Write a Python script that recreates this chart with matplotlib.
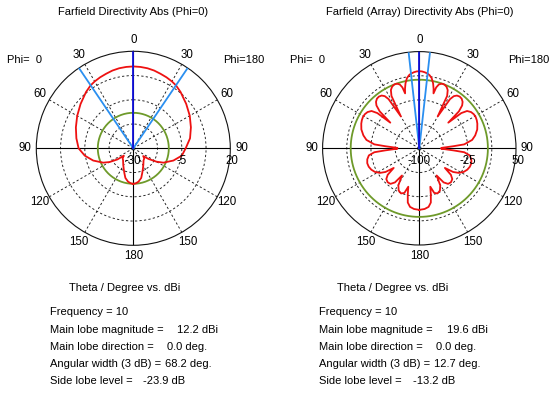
import numpy as np
import matplotlib
matplotlib.use("Agg")
import matplotlib.pyplot as plt

plt.rcParams['font.family'] = ['Liberation Sans', 'DejaVu Sans']

# ---------------- data ----------------
# single element, theta in degrees, directivity in dBi
theta_single = [0, 5, 10, 15, 20, 25, 30, 34.1, 40, 50, 60, 70, 80, 90, 98.6, 107, 115.5, 120,
                125, 128, 133, 140, 148, 155, 160, 165, 171, 176, 180]
single_phi0 = [12.2, 12.1, 11.9, 11.5, 10.9, 10.4, 9.8, 9.2, 7.9, 5.5, 3.4, 1.5, -0.2, -1.8,
               -4.7, -8.4, -12.8, -15.8, -20.0, -23.8, -22.5, -21.8, -20.2, -18.3, -16.5, -14.2,
               -12.6, -11.9, -11.7]
single_phi180 = [12.2, 12.1, 11.9, 11.5, 10.9, 10.4, 9.8, 9.2, 7.9, 5.6, 3.6, 1.6, -0.3, -3.0,
                 -4.7, -8.4, -12.8, -16.2, -20.5, -23.5, -22.3, -21.8, -20.2, -18.3, -16.5,
                 -14.2, -12.6, -11.9, -11.7]

# array, theta in degrees, directivity in dBi
theta_array = [0, 2, 4, 6.35, 8, 10, 12, 13.5, 14.5, 15.5, 17, 19, 20.5, 22, 24, 26, 28, 30,
               32, 33.5, 35.5, 38, 40.5, 43, 45, 47, 48.5, 50, 52, 55, 58, 61, 64, 67, 72, 77,
               81, 85, 86.5, 88, 89, 90, 91, 92, 93.5, 95, 98, 102, 106, 110, 114, 118, 122,
               125, 127.5, 130, 133, 137, 141, 144.5, 147.5, 150.5, 154, 158, 161.5, 164, 166,
               168, 171, 175, 180]
array_phi0 = [19.6, 19.3, 18.3, 16.6, 14.5, 10.5, 3.0, -5.0, -12.0, -2.0, 3.5, 6.0, 6.4, 6.0,
              4.2, 0.5, -8.0, -43.0, -10.0, -3.0, 0.5, 1.8, 1.2, -1.5, -6.0, -16.0, -40.0,
              -15.0, -6.0, -2.0, -0.3, 0.0, -0.8, -2.2, -5.5, -11.0, -17.0, -30.0, -47.0,
              -60.0, -66.0, -62.0, -66.0, -60.0, -47.0, -30.0, -21.0, -17.5, -16.0, -16.5,
              -18.5, -22.0, -28.0, -36.0, -50.0, -36.0, -30.0, -28.0, -29.0, -35.0, -50.0,
              -34.0, -27.0, -24.5, -27.0, -38.0, -26.0, -14.0, -8.0, -5.5, -4.5]
array_phi180 = list(array_phi0)

single_info = {"freq": "10", "mag": "12.2 dBi", "dir": "0.0 deg.", "width": 68.2, "sll": -23.9}
array_info = {"freq": "10", "mag": "19.6 dBi", "dir": "0.0 deg.", "width": 12.7, "sll": -13.2}
single_main = 12.2
array_main = 19.6

single_rlim = (-30, 20)
array_rlim = (-100, 50)
single_rlabels = ["-30", "-5", "20"]
array_rlabels = ["-100", "-25", "50"]

theta_ticks = [0, 30, 60, 90, 120, 150, 180]

titles = ["Farfield Directivity Abs (Phi=0)", "Farfield (Array) Directivity Abs (Phi=0)"]

W, H = 558, 394
fig = plt.figure(figsize=(W / 100, H / 100), dpi=100)

RED = '#ee1111'
GREEN = '#6e9a2a'
DBLUE = '#1010dd'
LBLUE = '#2a8ff0'
FS = 8.0


def polar_panel(cx, cy, R, rlim, theta, phi0, phi180, main, info, rlabels, title, phi_dx):
    ax = fig.add_axes([(cx - R) / W, 1 - (cy + R) / H, 2 * R / W, 2 * R / H], projection='polar')
    ax.set_theta_zero_location('N')
    ax.set_theta_direction(1)
    rmin, rmax = rlim
    ax.set_ylim(rmin, rmax)
    # grid
    step = (rmax - rmin) / 4
    ax.set_yticks([rmin + step, rmin + 2 * step, rmin + 3 * step])
    ax.set_yticklabels([])
    ax.set_xticks(np.deg2rad([30, 60, 120, 150, 210, 240, 300, 330]))
    ax.set_xticklabels([])
    ax.grid(True, color='#1a1a1a', linestyle=(0, (2.5, 2.5)), linewidth=0.65)
    ax.spines['polar'].set_linewidth(0.8)
    ax.spines['polar'].set_color('#111111')
    ax.tick_params(length=0)
    for a in [0, 90, 180, 270]:
        ax.plot([np.deg2rad(a)] * 2, [rmin, rmax], color='black', lw=0.8, zorder=2)
    # side lobe level circle
    tt = np.linspace(0, 2 * np.pi, 361)
    ax.plot(tt, np.full_like(tt, main + info["sll"]), color=GREEN, lw=1.3, zorder=3)
    # pattern
    th = np.asarray(theta, float)
    ang = np.concatenate([-th[::-1], th[1:]])
    rr = np.concatenate([np.asarray(phi180)[::-1], np.asarray(phi0)[1:]])
    ax.plot(np.deg2rad(ang), rr, color=RED, lw=1.3, zorder=4)
    # beam lines
    hw = info["width"] / 2
    for a in (-hw, hw):
        ax.plot([np.deg2rad(a)] * 2, [rmin, rmax], color=LBLUE, lw=1.3, zorder=5)
    ax.plot([0, 0], [rmin, rmax], color=DBLUE, lw=1.3, zorder=6)
    ax.set_rlim(rmin, rmax)
    # theta labels
    rl = rmax + 0.115 * (rmax - rmin)
    for t in theta_ticks:
        for s in ([1] if t in (0, 180) else [1, -1]):
            ax.text(np.deg2rad(s * t), rl, str(t), ha='center', va='center', fontsize=FS + 0.3,
                    clip_on=False)
    # radial labels
    for val, lab in zip([rmin, rmin + 2 * step, rmax], rlabels):
        ax.annotate(lab, xy=(np.deg2rad(-90), val), xytext=(2 if val == rmax else 0, -13),
                    textcoords='offset pixels', ha='center', va='center', fontsize=FS + 0.3,
                    annotation_clip=False, zorder=7)
    fig.text((cx - phi_dx[0]) / W, 1 - 60 / H, "Phi=  0", ha='left', va='center', fontsize=FS)
    fig.text((cx + phi_dx[1]) / W, 1 - 60 / H, "Phi=180", ha='center', va='center', fontsize=FS)
    fig.text(cx / W, 1 - 12 / H, title, ha='center', va='center', fontsize=FS)
    return ax


polar_panel(133.3, 148.3, 97, single_rlim, theta_single, single_phi0, single_phi180,
            single_main, single_info, single_rlabels, titles[0], (126, 110))
polar_panel(419.3, 148.3, 96.7, array_rlim, theta_array, array_phi0, array_phi180,
            array_main, array_info, array_rlabels, titles[1], (129, 109))


def info_block(x0, xc, info, vx):
    fig.text(xc / W, 1 - 288 / H, "Theta / Degree vs. dBi", ha='center', va='center', fontsize=FS)
    ys = [312.3, 330.0, 347.3, 364.0, 380.7]
    labels = ["Frequency = " + info["freq"], "Main lobe magnitude =", "Main lobe direction =",
              "Angular width (3 dB) =", "Side lobe level ="]
    values = ["", info["mag"], info["dir"], "%.1f deg." % info["width"], "%.1f dB" % info["sll"]]
    for y, lab, val, x in zip(ys, labels, values, vx):
        fig.text(x0 / W, 1 - y / H, lab, ha='left', va='center', fontsize=FS)
        if val:
            fig.text(x / W, 1 - y / H, val, ha='left', va='center', fontsize=FS)


info_block(50, 125, single_info, [0, 176.7, 166.7, 165, 143.3])
info_block(319, 393, array_info, [0, 446.7, 436, 434.3, 412.7])

fig.savefig("out.png", dpi=100, facecolor='white')
